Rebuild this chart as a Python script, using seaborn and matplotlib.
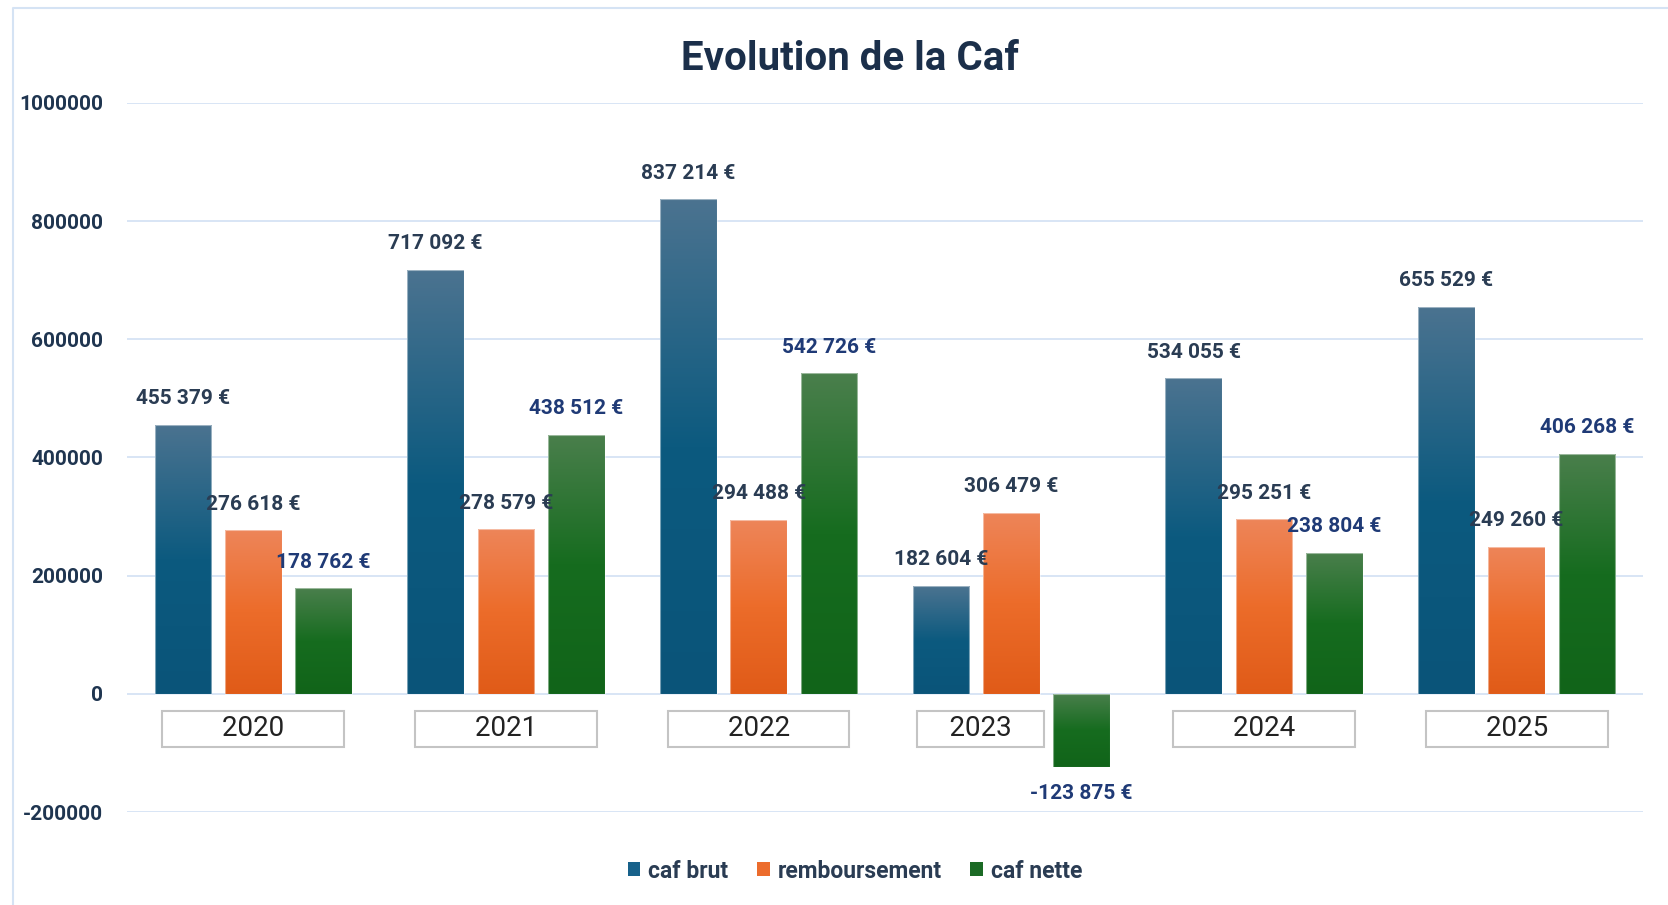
import numpy as np
import pandas as pd
import matplotlib
matplotlib.use("Agg")
import matplotlib.pyplot as plt
from matplotlib.colors import LinearSegmentedColormap
from matplotlib.patches import Patch
from matplotlib.lines import Line2D
import seaborn as sns

# ---- data ----
annees = ["2020", "2021", "2022", "2023", "2024", "2025"]
caf_brut = [455379, 717092, 837214, 182604, 534055, 655529]
remboursement = [276618, 278579, 294488, 306479, 295251, 249260]
caf_nette = [178762, 438512, 542726, -123875, 238804, 406268]
series = ["caf brut", "remboursement", "caf nette"]
y_ticks = [-200000, 0, 200000, 400000, 600000, 800000, 1000000]

df = pd.DataFrame({
    "annee": annees * 3,
    "serie": [s for s in series for _ in annees],
    "valeur": caf_brut + remboursement + caf_nette,
})

sns.set_style("white")
plt.rcParams['font.family'] = ['Roboto', 'DejaVu Sans']

mid_colors = {"caf brut": "#17618a", "remboursement": "#ec6c2c", "caf nette": "#1b6a25"}
grad_colors = [
    ("#4b7390", "#0c5a7f", "#0a5479"),
    ("#ee8559", "#ec6c2a", "#e05b18"),
    ("#4a7f4c", "#166c1f", "#116419"),
]
label_colors = ["#2a3c53", "#2a3c53", "#1f3a76"]

fig = plt.figure(figsize=(16.68, 9.05), dpi=100)
ax = fig.add_axes([127/1668, 1 - 812/905, (1643-127)/1668, (812-103)/905])

sns.barplot(data=df, x="annee", y="valeur", hue="serie", hue_order=series,
            order=annees, palette=mid_colors, width=0.835, gap=0.19,
            legend=False, ax=ax, zorder=3)

values = [caf_brut, remboursement, caf_nette]
for k, cont in enumerate(ax.containers):
    top, mid, bot = grad_colors[k]
    cmap = LinearSegmentedColormap.from_list(f"g{k}", [(0, top), (0.5, mid), (1, bot)])
    for p in cont.patches:
        x0, w = p.get_x(), p.get_width()
        y0, h = p.get_y(), p.get_height()
        ytop, ybot = max(y0, y0 + h), min(y0, y0 + h)
        grad = np.linspace(0, 1, 256).reshape(-1, 1)
        im = ax.imshow(grad, cmap=cmap, extent=[x0, x0 + w, ybot, ytop],
                       origin="upper", aspect="auto", zorder=2.5,
                       interpolation="bilinear")
        im.set_clip_path(p)
        p.set_facecolor("none")
        p.set_edgecolor((1, 1, 1, 0.45))
        p.set_linewidth(0.8)
    labels = [f"{v:,}".replace(",", " ") + " €" for v in values[k]]
    ax.bar_label(cont, labels=labels, padding=12, fontsize=15, fontweight="bold",
                 color=label_colors[k], zorder=5)

ax.set_xlim(-0.5, len(annees) - 0.5)
ax.set_ylim(-200000, 1000000)
ax.set_yticks(y_ticks)
ax.set_yticklabels([str(t) for t in y_ticks])
ax.tick_params(axis="y", length=0, pad=17, labelsize=15, labelcolor="#1f3550")
for t in ax.get_yticklabels():
    t.set_fontweight("bold")
ax.set_xticks([])
ax.set_xlabel("")
ax.set_ylabel("")
ax.grid(axis="y", color="#d5e3f4", linewidth=1.3, zorder=0)
ax.set_axisbelow(True)
for s in ax.spines.values():
    s.set_visible(False)

# year labels in boxes below the zero line
for i, a in enumerate(annees):
    n_sp = 4 if a == "2023" else 8
    dx = -31 if a == "2023" else 0
    ax.annotate(" " * n_sp + a + " " * n_sp, xy=(i, 0), xytext=(dx, -35),
                textcoords="offset pixels", ha="center", va="center",
                fontsize=20, color="#222222", zorder=4,
                bbox=dict(boxstyle="square,pad=0.17", fc="white", ec="#c4c4c4", lw=1.5))

fig.text(850/1668, 1 - 59/905, "Evolution de la Caf", ha="center", va="center",
         fontsize=29, fontweight="bold", color="#1b2f4a")

handles = [Patch(facecolor=mid_colors[s], edgecolor="none") for s in series]
leg = fig.legend(handles, series, loc="center", bbox_to_anchor=(855/1668, 1 - 871/905),
                 ncol=3, frameon=False, handlelength=0.55, handleheight=0.55,
                 handletextpad=0.35, columnspacing=1.25,
                 prop={"weight": "bold", "size": 16.5})
for t in leg.get_texts():
    t.set_color("#2a3c53")

# chart area border (top and left)
fig.add_artist(Line2D([13/1668, 13/1668, 1], [0, 1 - 8/905, 1 - 8/905],
                      transform=fig.transFigure, color="#d5e3f4", lw=1.5))

fig.savefig("out.png", dpi=100, facecolor="white")
